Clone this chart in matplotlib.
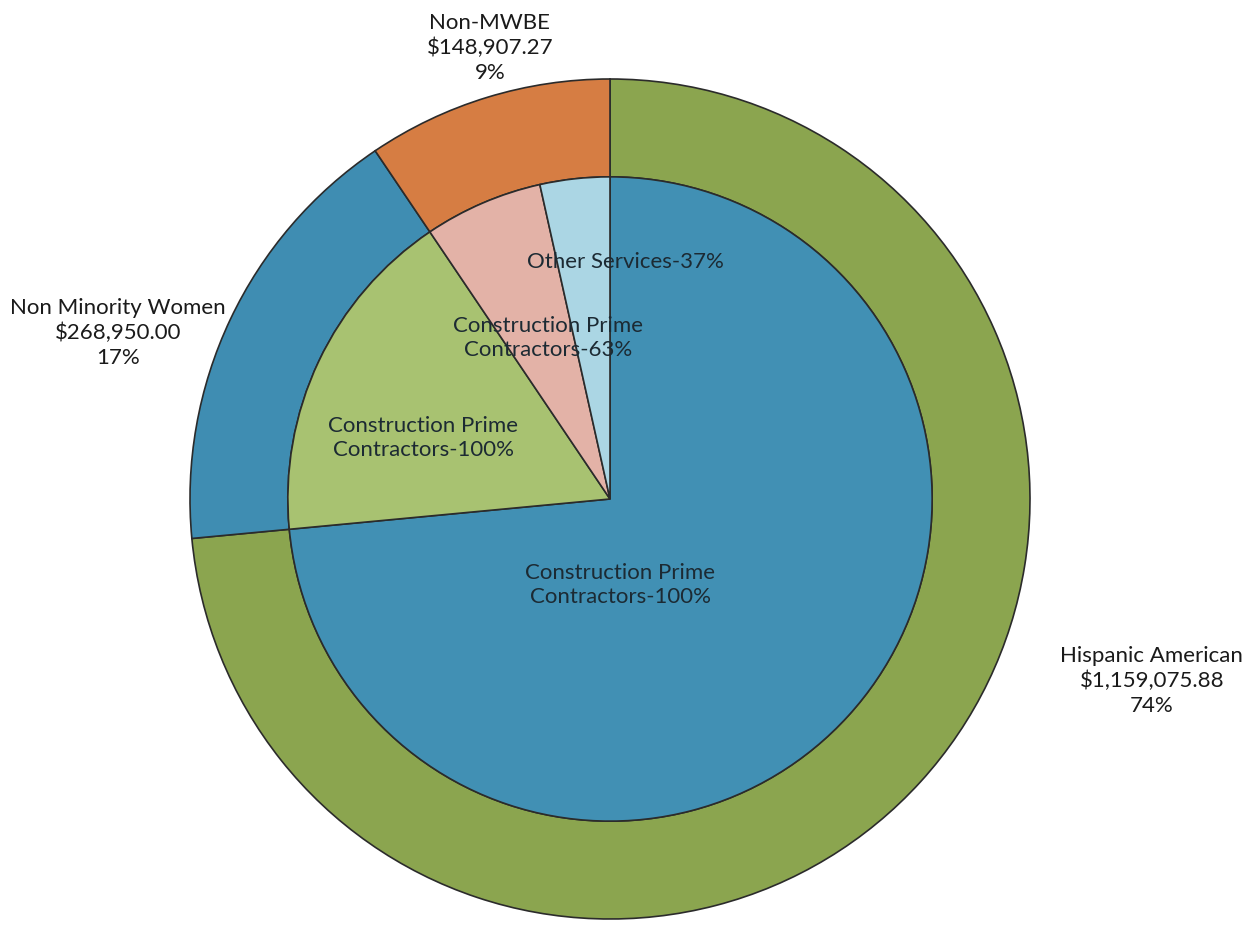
import matplotlib.pyplot as plt
import numpy as np

plt.rcParams['font.family'] = ['Lato', 'DejaVu Sans']

# outer ring: vendor groups
groups = ['Hispanic American', 'Non Minority Women', 'Non-MWBE']
amounts = [1159075.88, 268950.00, 148907.27]
pct_labels = ['74%', '17%', '9%']
outer_colors = ['#8ba54f', '#3f8db2', '#d67d43']

# inner pie: work type split within each group (share of group)
inner_labels = ['Construction Prime\nContractors-100%',
                'Construction Prime\nContractors-100%',
                'Construction Prime\nContractors-63%',
                'Other Services-37%']
inner_group = [0, 1, 2, 2]
inner_share = [1.00, 1.00, 0.63, 0.37]
inner_colors = ['#4190b4', '#a8c271', '#e3b2a7', '#abd6e4']

inner_vals = [amounts[g] * s for g, s in zip(inner_group, inner_share)]

fig = plt.figure(figsize=(12.45, 9.29), dpi=100)
ax = fig.add_axes([190 / 1245, 9 / 929, 840 / 1245, 840 / 929])

edge = dict(edgecolor='#2b2b2b', linewidth=1.2)
ax.pie(amounts, radius=1.0, colors=outer_colors, startangle=90,
       counterclock=False, wedgeprops=dict(width=0.233, **edge))
ax.pie(inner_vals, radius=0.767, colors=inner_colors, startangle=90,
       counterclock=False, wedgeprops=edge)
ax.set_xlim(-1, 1)
ax.set_ylim(-1, 1)
ax.set_aspect('equal')

# outer labels
outer_pos = [(1.29, -0.431), (-1.171, 0.398), (-0.286, 1.076)]
for name, amt, pct, (x, y) in zip(groups, amounts, pct_labels, outer_pos):
    ax.text(x, y, '%s\n$%s\n%s' % (name, format(amt, ',.2f'), pct),
            ha='center', va='center', fontsize=16, color='#1a1a1a',
            linespacing=1.3, clip_on=False)

# inner labels
inner_pos = [(0.024, -0.202), (-0.445, 0.148), (-0.148, 0.386), (0.036, 0.567)]
for lab, (x, y) in zip(inner_labels, inner_pos):
    ax.text(x, y, lab, ha='center', va='center', fontsize=16,
            color='#1c2a33', linespacing=1.25)

plt.savefig('out.png', dpi=100)
